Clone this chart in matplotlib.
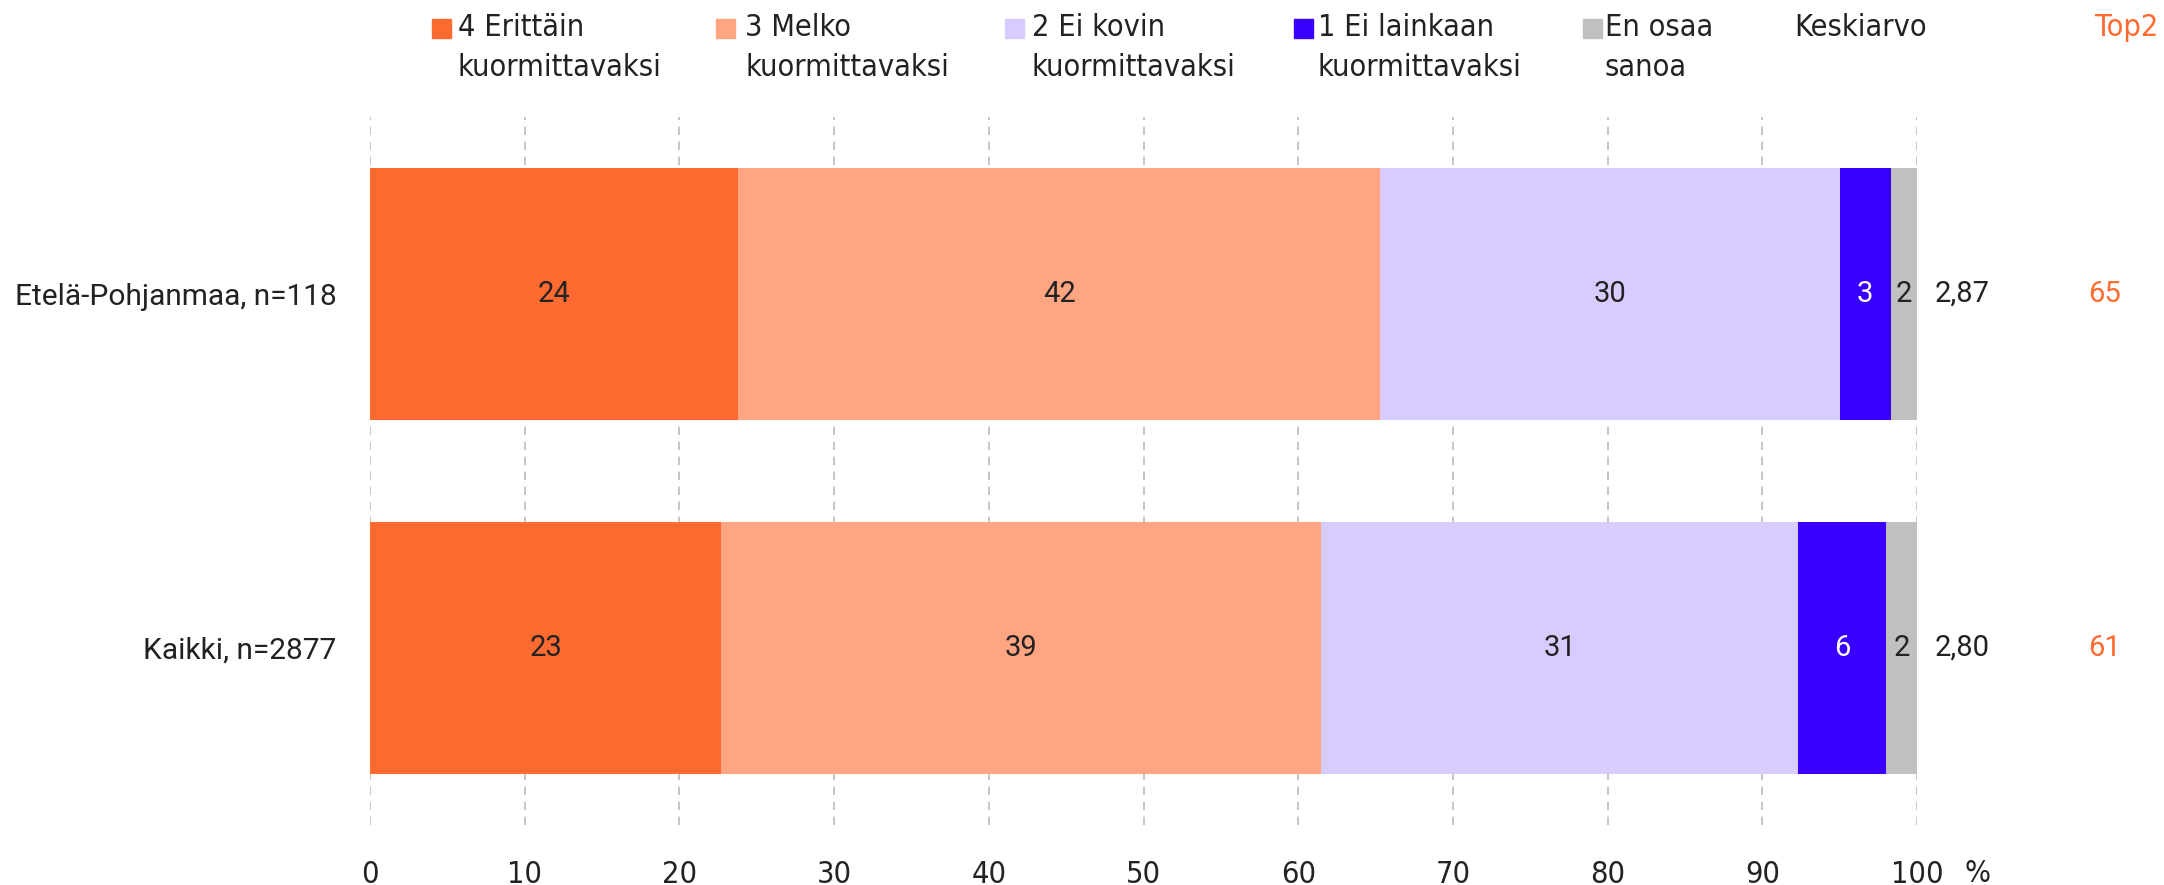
import numpy as np
import matplotlib.pyplot as plt
from matplotlib.patches import Rectangle
from matplotlib.transforms import blended_transform_factory

# data
groups = ["Etelä-Pohjanmaa, n=118", "Kaikki, n=2877"]
series = ["4 Erittäin\nkuormittavaksi", "3 Melko\nkuormittavaksi", "2 Ei kovin\nkuormittavaksi",
          "1 Ei lainkaan\nkuormittavaksi", "En osaa\nsanoa"]
shares = [[23.8, 41.5, 29.7, 3.3, 1.7],
          [22.7, 38.8, 30.8, 5.7, 2.1]]
mean_vals = ["2,87", "2,80"]
top2_vals = ["65", "61"]
xticks = [0, 10, 20, 30, 40, 50, 60, 70, 80, 90, 100]

colors = ["#FF6A30", "#FFA582", "#D8CCFF", "#3A00FF", "#C0C0C0"]
txt_colors = ["#222222", "#222222", "#222222", "#FFFFFF", "#222222"]
orange = "#FF6A30"
dark = "#222222"

wide = ["Roboto", "DejaVu Sans"]
nar = dict(family="DejaVu Sans", stretch="condensed", fontsize=22, color=dark)

W, H = 2164, 885
fig = plt.figure(figsize=(W / 100, H / 100), dpi=100)
ax = fig.add_axes([370 / W, 1 - 825 / H, (1917 - 370) / W, (825 - 117) / H])

y = np.arange(len(groups))
left = np.zeros(len(groups))
vals = np.array(shares)
for i in range(len(series)):
    ax.barh(y, vals[:, i], left=left, height=0.71, color=colors[i], zorder=2)
    for j in range(len(groups)):
        ax.text(left[j] + vals[j, i] / 2, y[j], "%.0f" % vals[j, i], ha="center", va="center",
                color=txt_colors[i], fontsize=21, family=wide, zorder=3)
    left += vals[:, i]

ax.set_xlim(0, 100)
ax.set_ylim(1.5, -0.5)
ax.set_yticks(y)
ax.set_yticklabels(groups, fontsize=21.5, family=wide, color=dark)
ax.set_xticks(xticks)
ax.set_xticklabels([str(t) for t in xticks], family="DejaVu Sans", stretch="condensed",
                   fontsize=22, color=dark)
ax.tick_params(axis="x", length=0, pad=25)
ax.tick_params(axis="y", length=0, pad=24)
for s in ax.spines.values():
    s.set_visible(False)
ax.xaxis.grid(True, color="#BBBBBB", linestyle=(0, (5, 4)), linewidth=1.2, zorder=0)
ax.set_axisbelow(True)

tr = blended_transform_factory(fig.transFigure, ax.transData)
for j in range(len(groups)):
    ax.text(1935 / W, y[j], mean_vals[j], transform=tr, ha="left", va="center",
            fontsize=21, family=wide, color=dark)
    ax.text(2088 / W, y[j], top2_vals[j], transform=tr, ha="left", va="center",
            fontsize=21, family=wide, color=orange)

# percent sign after the last tick
fig.text(1965 / W, 1 - 873 / H, "%", ha="left", va="center", **nar)

# legend
sq_x = [432, 716, 1005, 1294, 1583]
tx_x = [458, 745, 1032, 1318, 1605]
for i in range(len(series)):
    fig.patches.append(Rectangle((sq_x[i] / W, 1 - 38 / H), 19 / W, 19 / H,
                                 transform=fig.transFigure, color=colors[i]))
    fig.text(tx_x[i] / W, 1 - 13 / H, series[i], ha="left", va="top", linespacing=1.5, **nar)
fig.text(1794 / W, 1 - 13 / H, "Keskiarvo", ha="left", va="top", **nar)
fig.text(2158 / W, 1 - 13 / H, "Top2", ha="right", va="top",
         family="DejaVu Sans", stretch="condensed", fontsize=22, color=orange)

fig.savefig("out.png", dpi=100)
